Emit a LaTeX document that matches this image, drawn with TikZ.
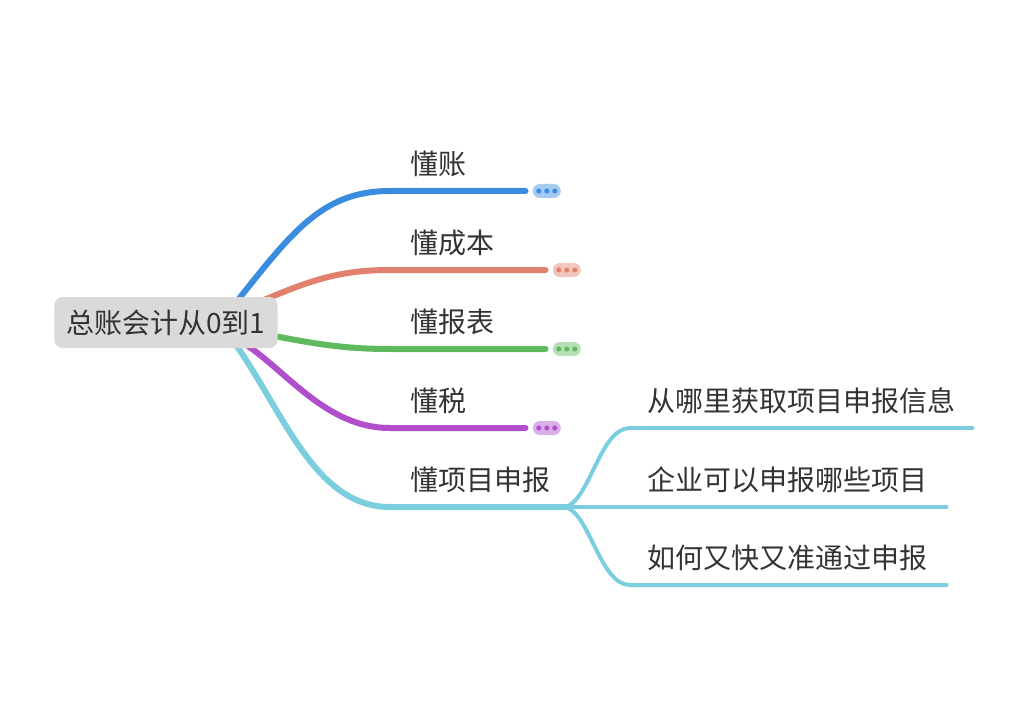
\documentclass[tikz,border=0pt]{standalone}
\usepackage{fontspec}
\usepackage{tikz}
\usetikzlibrary{positioning}
\newfontfamily\cjk{Noto Sans CJK SC}
\definecolor{txt}{HTML}{333333}
\definecolor{rootfill}{HTML}{DADADA}
\definecolor{zhangc}{HTML}{3A8CDE}
\definecolor{chengbenc}{HTML}{E2806E}
\definecolor{baobiaoc}{HTML}{5EBA5C}
\definecolor{shuic}{HTML}{B04ECC}
\definecolor{xiangmuc}{HTML}{7ACEDE}

\begin{document}
\begin{tikzpicture}[x=0.75pt,y=-0.75pt,
  every node/.style={font=\cjk\fontsize{21}{25}\selectfont,text=txt},
  topic/.style={anchor=south west,inner xsep=15pt,inner ysep=8.5pt,
    text height=17pt,text depth=4pt,text width=#1,align=left},
  sub/.style={topic=#1,inner xsep=12.75pt},
  branch/.style={draw=#1,line width=4.5pt,line cap=round},
  twig/.style={draw=xiangmuc,line width=3pt,line cap=round},
  pill/.style={fill=#1!45,rounded corners=5.25pt,minimum width=21pt,
    minimum height=10.5pt,inner sep=0pt,
    path picture={\foreach \d in {-6pt,0pt,6pt}
      \fill[#1] ([xshift=\d]path picture bounding box.center) circle[radius=1.9pt];}}]
\useasboundingbox (0,0) rectangle (1026,724);

% topics
\node[topic=71.25pt] (zhang) at (390,191) {懂账};
\node[topic=86.25pt] (chengben) at (390,270) {懂成本};
\node[topic=86.25pt] (baobiao) at (390,349) {懂报表};
\node[topic=71.25pt] (shui) at (390,428) {懂税};
\node[topic=101.25pt] (xiangmu) at (390,507) {懂项目申报};

% subtopics
\node[sub=231pt] (laiyuan) at (630,428) {从哪里获取项目申报信息};
\node[sub=211.5pt] (xiangmulei) at (630,507) {企业可以申报哪些项目};
\node[sub=211.5pt] (tongguo) at (630,585) {如何又快又准通过申报};

% folded markers
\node[pill=zhangc,right=5.25pt of zhang.south east] (zhang-more) {};
\node[pill=chengbenc,right=5.25pt of chengben.south east] (chengben-more) {};
\node[pill=baobiaoc,right=5.25pt of baobiao.south east] (baobiao-more) {};
\node[pill=shuic,right=5.25pt of shui.south east] (shui-more) {};

% branches, starting under the root box
\coordinate (s1) at (230,310);
\coordinate (s2) at (240,310);
\coordinate (s3) at (240,330);
\coordinate (s4) at (230,335);
\coordinate (s5) at (225,330);
\draw[branch=zhangc] (s1) .. controls (290,235) and (320,191) .. (zhang.south west) -- (zhang.south east);
\draw[branch=chengbenc] (s2) .. controls (300,285) and (330,270) .. (chengben.south west) -- (chengben.south east);
\draw[branch=baobiaoc] (s3) .. controls (300,340) and (330,349) .. (baobiao.south west) -- (baobiao.south east);
\draw[branch=shuic] (s4) .. controls (280,360) and (320,428) .. (shui.south west) -- (shui.south east);
\draw[branch=xiangmuc] (s5) .. controls (280,400) and (310,507) .. (xiangmu.south west) -- (xiangmu.south east);

\draw[twig] (xiangmu.south east) .. controls (590,500) and (600,428) .. (laiyuan.south west) -- (laiyuan.south east);
\draw[twig] (xiangmu.south east) -- (xiangmulei.south west) -- (xiangmulei.south east);
\draw[twig] (xiangmu.south east) .. controls (590,514) and (600,585) .. (tongguo.south west) -- (tongguo.south east);

% root
\node[fill=rootfill,rounded corners=6pt,minimum height=38.25pt,inner xsep=9pt] (root) at (166,322.5) {总账会计从0到1};
\end{tikzpicture}
\end{document}
